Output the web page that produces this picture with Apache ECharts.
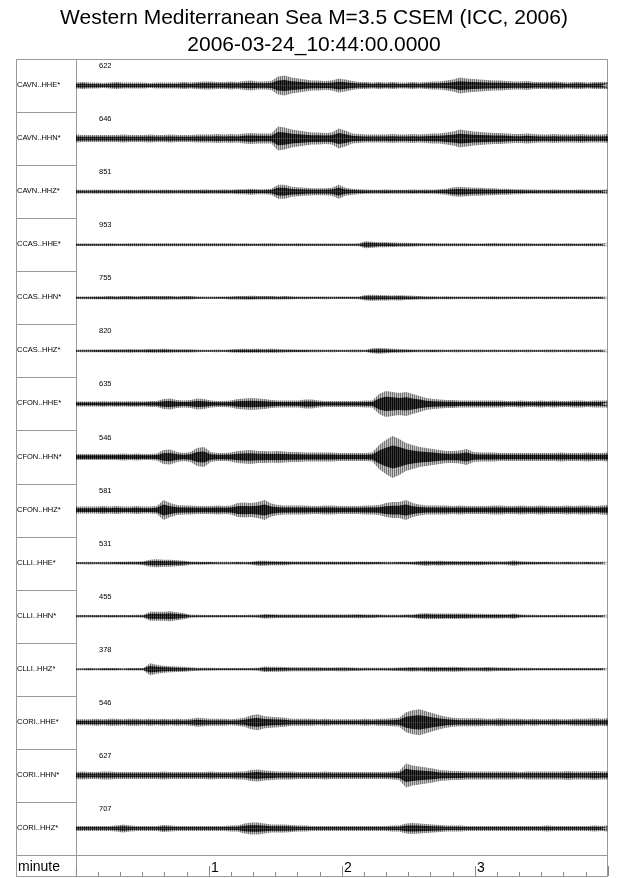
<!DOCTYPE html>
<html><head><meta charset="utf-8">
<script src="https://cdn.jsdelivr.net/npm/echarts@6/dist/echarts.min.js"></script>
<style>html,body{margin:0;padding:0;background:#fff}#c{width:640px;height:878px}</style>
</head><body><div id="c"></div>
<script>
// ---------- data ----------
const titleLine1 = 'Western Mediterranean Sea M=3.5 CSEM (ICC, 2006)';
const titleLine2 = '2006-03-24_10:44:00.0000';
const stations = ['CAVN..HHE*','CAVN..HHN*','CAVN..HHZ*','CCAS..HHE*','CCAS..HHN*','CCAS..HHZ*',
  'CFON..HHE*','CFON..HHN*','CFON..HHZ*','CLLI..HHE*','CLLI..HHN*','CLLI..HHZ*',
  'CORI..HHE*','CORI..HHN*','CORI..HHZ*'];
const gains = [622,646,851,953,755,820,635,546,581,531,455,378,546,627,707];
const axisName = 'minute';
const minuteTicks = [1,2,3];
// amplitude envelopes (half-height), 80 bins of 3 s over 4 minutes
const envCAVN_HHE = [3,3.5,3,3,2.5,3,3.5,3,3,3,3,2.5,3,3,3,3,3.5,3,
 3.5,4,4,3.5,3.5,4,3.5, 4.5,5,4,4,4.5, 9,10,8,7,6, 5,5,4.5,5,7,6,4.5,
 3.5,3.5,3,3.5,3,3.5,3,3,3.5,3,3.5,4,4, 5,6,8,7,6.5,6,5.5,5,5,4.5,
 4,4,4.5,3.5,3.5,3.5,4,3.5,3,3.5,3.5,3,3.5,3.5,3.5];
const envCAVN_HHN = [4,3.5,3.5,3.5,3.5,3.5,3.5,4,3.5,3.5,3.5,4,3.5,3.5,4,3.5,3.5,3.5,
 4,4,4,4.5,4,4.5,4, 5,5.5,5,5,5, 12,11,9,8,7, 6,6,5.5,6,10,8,5,
 4.5,4,4,4,4,4.5,4,4,4.5,4,4.5,5,5, 6,7,9,8,7,6.5,6,5.5,5.5,5,
 4.5,4.5,5,4.5,4,4,4.5,4,4,4,4.5,4,4,4,4.5];
const envCAVN_HHZ = [2,1.8,1.8,2,1.8,2,1.8,1.8,2,1.8,2,1.8,1.8,2,2,1.8,2,2,
 2,2.2,2,2,2.2,2,2.5, 2.5,3,2.5,2.5,3, 7,7,5,4.5,4, 3.5,3.5,3.5,4,7,4,3,
 2.5,2.2,2,2,2.2,2,2,2,2.2,2,2.2,2,2.5, 3,4.5,5,4.5,4,4,3.5,3.5,3,3,
 2.5,2.5,2.2,2.2,2,2,2.2,2,2,2,2.2,2,2,2,2.2];
const envCCAS_HHE = [1.3,1.3,1.2,1.3,1.3,1.4,1.3,1.3,1.4,1.5,1.4,1.3,1.4,1.5,1.5,1.4,1.5,1.5,1.4,1.5,1.5,1.4,
 1.5,1.4,1.3,1.4,1.2,1.3,1.4,1.5,1.3,1.2,1.3,1.4,1.3,1.3,1.2,1.3,1.2,1.3,1.3,1.2,1.5,
 3.5,3,2.5,2.5,2.2,2,2,
 1.8,1.6,1.5,1.6,1.5,1.5,1.4,1.5,1.4,1.3,1.3,1.5,1.6,1.5,1.4,1.5,1.4,1.4,1.3,1.3,1.4,1.3,1.3,1.4,1.3,1.3,1.4,1.5,1.4,1.6];
const envCCAS_HHN = [1.3,1.4,1.4,1.5,1.5, 1.7,1.6,1.8,1.7,1.6,1.8,1.8,1.7,1.9,1.7,1.6,1.8,1.7,
 1.3,1.2,1.2,1.3,1.3, 1.6,1.8,1.9,2,1.8,1.7,1.8,1.6,1.7,1.5, 1.3,1.4,1.3,1.3,1.4,1.2,1.3,1.3,1.3,1.4,
 2.8,3,2.8,2.6,2.4,2.6,2.2,2,1.8,
 1.6,1.5,1.4,1.5,1.4,1.3,1.3,1.4,1.3,1.4,1.5,1.4,1.4,1.3,1.3,1.4,1.3,1.3,1.4,1.3,1.4,1.3,1.3,1.4,1.4,1.3,1.3,1.4];
const envCCAS_HHZ = [1.2,1.3,1.3,1.4,1.4, 1.6,1.7,1.6,1.8,1.7,1.6,1.9,1.8,2,1.8,1.7,1.6,1.6,
 1.3,1.2,1.2,1.3,1.2, 1.7,1.9,2,1.9,2,1.8,2,1.8,1.6,1.5,1.4,1.4, 1.3,1.3,1.2,1.3,1.2,1.2,1.3,1.3,1.2,
 2.5,2.8,2.5,2,1.8,1.6,
 1.4,1.3,1.3,1.4,1.3,1.2,1.3,1.3,1.2,1.3,1.3,1.2,1.3,1.2,1.2,1.3,1.2,1.3,1.2,1.2,1.3,1.3,1.2,1.3,1.2,1.3,1.3,1.2,1.3,1.3];
const envCFON_HHE = [2.5,2.5,2.5,2.5,2.8,2.5,2.8,2.5,2.8,2.8,2.5,3,3, 5,5.5,4,3.5, 4,5.5,5,3.5, 3,3,3.5,
 5,5.5,6,5.5,5,4, 3.5,3.5,3.5,3.5, 4.5,4.5,3.5, 3,3,3,3,3,3,3.5,3.5,
 10,13,12,11,12,10,8,6,5,
 4.5,4,4,3.5,3.5,3.5,3.5,3.5,3.5,3.5,3,3,3.5,3,3,3.5,3,3.5,3,3,3.5,3.5,3,3.5,3.5,3.5];
const envCFON_HHN = [3,3,3,3,3,3,3,3.5,3,3.5,3,3,3.5, 7,7.5,5,4, 5,9,10,5, 4,4,4.5,
 6,6.5,7,6,6,5.5,6,5.5, 5,5,4.5,4.5,4.5,4.5,4.5,4,4,4,4,4,4.5,
 12,17,21,18,14,12,10,9,8,7, 6,6,6.5,8,
 5,4.5,4.5,4.5,4,4,4,4,4,4,4,4,4,4.5,4,4,4,4.5,4,4,4.5];
const envCFON_HHZ = [3.5,3.5,3.5,3.5,4,3.5,4,3.5,3.5,4,3.5,3.5,4, 10,7,5, 4.5,4.5,4,4,4,4.5,4,4.5,
 7,7.5,7,8,10,6.5,5, 4.5,4.5,4.5,4.5,4,4,4.5,4.5,4,4,4,4,4.5,4.5,5,
 7,8,8,10,7,5.5,
 4.5,4.5,4.5,4.5,4,4.5,4,4,4,4,4.5,4.5,4,4,4.5,4,4,4.5,4,4,4,4.5,4,4.5,4.5,4,4.5,5];
const envCLLI_HHE = [1.2,1.2,1.3,1.2,1.3,1.3,1.4,1.5,1.6,1.6,2, 3.5,4,3.5,3.5,3,2.5,
 1.6,1.5,1.5,1.4,1.3,1.3,1.3,1.4,1.3,1.5, 2.5,2.5,2.2,2,2,
 1.7,1.6,1.6,1.7,1.6,1.5,1.6,1.5,1.6,1.5,1.4,1.5,1.4,1.4,1.3,1.3,1.4,1.4,1.5,
 2.2,2.5,2.2,2.4,2.2,2.2,2,2.2,2,2,1.8,
 1.8,1.7,1.8,2.6,1.8,1.6,1.5,1.4,1.4,1.3,1.3,1.4,1.3,1.3,1.4,1.3,1.3,1.5];
const envCLLI_HHN = [1.2,1.2,1.2,1.3,1.2,1.3,1.3,1.2,1.3,1.4,1.5, 4.5,4.5,4.5,5,4,3,
 1.5,1.4,1.3,1.3,1.3,1.3,1.3,1.3,1.3,1.4,1.5,
 2.2,2,1.8,1.8,1.7,1.8,1.7,1.8,1.8,1.7,1.8,1.7,1.8,1.9,2,1.8,1.7,1.6,1.5,1.5,1.5,1.6,1.8,
 2.6,3,2.8,2.8,2.6,2.8,2.6,2.6,2.4,2.4,2.2,2.2,2.2,2,2.6,
 1.6,1.4,1.4,1.3,1.3,1.3,1.4,1.3,1.3,1.3,1.4,1.3,1.3,1.4];
const envCLLI_HHZ = [1.1,1.1,1.2,1.1,1.2,1.2,1.2,1.1,1.2,1.2,1.3, 6,4.5,3.5,3,2.8,2.5,2,
 1.6,1.4,1.4,1.3,1.3,1.3,1.3,1.3,1.2,1.4,
 2.8,2.5,2.4,2.2,2,2,2,1.9,1.9,1.8,1.8,1.9,2,1.8,1.6,1.5,1.4,1.4,1.4,
 1.6,1.8,2,2.2,2,2.2,2.4,2.2,2.2,2.4,2.2,2,2,2,2.2,2,1.8,1.8,1.6,1.5,
 1.4,1.3,1.2,1.3,1.2,1.2,1.3,1.2,1.2,1.3,1.2,1.2,1.3];
const envCORI_HHE = [3,3,3,3.5,3,3.5,3.5,3,3.5,3.5,3,3.5,3,3.5,3,3.5,3,3.5, 4.5,4,3.5, 3.5,3.5,3,3.5,4.5,
 7,8,6,5.5,5,4.5, 3.5,3.5,3.5,3.5,3,3.5,3,3,3,3,3,3.5,3,3.5,3.5,4,4.5,
 10,12,13,11,9,7,5.5,4.5,
 4,4,4,4,3.5,3.5,4,3.5,3.5,3.5,3,3.5,3,3,3.5,3,3,3.5,3.5,3.5,4,3.5,4];
const envCORI_HHN = [3.5,4,3.5,3.5,4,4,3.5,3.5,3.5,3.5,3.5,3.5,3.5,4,3.5,3.5,3.5,3.5, 3.5,3.5,4,3.5,3.5,3.5,4,4,
 5.5,6,5,4.5, 4,4,4,3.5,3.5,3.5,3.5,4,3.5,3.5,3.5,3.5,3.5,3.5,3.5,3.5,3.5,4,4.5,
 12,10,9,8,7,5.5,5,
 4.5,4.5,4,4,4,4,4,4,4,4,3.5,4,4,4,4,4,4,4.5,4,4,4,4.5,4,4];
const envCORI_HHZ = [2.5,2.5,2.5,2.5,2.5,2.5,3,4,3,2.5,2.5,2.5,2.5,3.5,3,2.5,2.5,2.5, 2.5,2.5,2.5,2.5,2.5,3,3,
 5,6,6,5,4,4,4,3.5, 3,3,2.5,2.5,2.5,2.5,2.5,2.5,2.5,2.5,2.5,2.5,2.5,2.5,3,3,
 5,5.5,5,4.5,4,3.5,
 3,3,3,2.5,2.5,2.5,2.5,2.5,2.5,2.5,2.5,2.5,2.5,2.5,2.5,3,2.5,2.5,2.5,2.5,2.5,2.5,3,2.5,3];

const traces = [envCAVN_HHE,envCAVN_HHN,envCAVN_HHZ,envCCAS_HHE,envCCAS_HHN,envCCAS_HHZ,
  envCFON_HHE,envCFON_HHN,envCFON_HHZ,envCLLI_HHE,envCLLI_HHN,envCLLI_HHZ,
  envCORI_HHE,envCORI_HHN,envCORI_HHZ];

// ---------- layout / style ----------
const L = 16, R = 607, D = 76, PR = 608, TOP = 59, AX = 855, BOT = 876;
const rowH = (AX - TOP) / stations.length;
const FONT = '"Liberation Sans", Arial, Helvetica, sans-serif';
const frame = '#999';
const CORE = 0.55; // share of the envelope drawn as the dense dark core

function makePattern(a0, a1) {
  const c = document.createElement('canvas'); c.width = 2; c.height = 4;
  const g = c.getContext('2d');
  g.fillStyle = 'rgba(0,0,0,' + a0 + ')'; g.fillRect(0, 0, 1, 4);
  g.fillStyle = 'rgba(0,0,0,' + a1 + ')'; g.fillRect(1, 0, 1, 4);
  return {image: c, repeat: 'repeat'};
}
const outerPat = makePattern(0.55, 0.22);
const innerPat = makePattern(0.95, 0.7);

const grids = [], xAxes = [], yAxes = [], series = [], graphics = [];
traces.forEach((env, i) => {
  const top = TOP + i * rowH;
  grids.push({left: D, top: top, width: PR - D, height: rowH});
  xAxes.push({gridIndex: i, type: 'category', boundaryGap: false, data: env.map((_, k) => k), show: false});
  yAxes.push({gridIndex: i, type: 'value', min: -rowH/2, max: rowH/2, show: false});
  const band = (name, data, pat) => ({type: 'line', name: name, xAxisIndex: i, yAxisIndex: i, symbol: 'none', silent: true,
    data: data, lineStyle: {width: 0}, areaStyle: {color: pat, opacity: 1}});
  series.push(band(stations[i] + ' max', env, outerPat));
  series.push(band(stations[i] + ' min', env.map(v => -v), outerPat));
  series.push(band(stations[i] + ' core+', env.map(v => v * CORE), innerPat));
  series.push(band(stations[i] + ' core-', env.map(v => -v * CORE), innerPat));
  graphics.push({type: 'text', left: L + 1, top: top + rowH/2 - 4.5, style: {text: stations[i], font: '7.5px ' + FONT, fill: '#000'}});
  graphics.push({type: 'text', left: 99, top: top + 3, style: {text: String(gains[i]), font: '7.5px ' + FONT, fill: '#000'}});
  if (i > 0) graphics.push({type: 'line', shape: {x1: L, y1: Math.round(top)+0.5, x2: D, y2: Math.round(top)+0.5}, style: {stroke: frame, lineWidth: 1}});
});
// time axis row
const ai = traces.length;
grids.push({left: D, top: AX, width: PR - D, height: BOT - AX});
xAxes.push({gridIndex: ai, type: 'value', min: 0, max: 240, interval: 60, position: 'bottom',
  axisLine: {show: false}, splitLine: {show: false},
  axisTick: {show: true, inside: true, length: 10, lineStyle: {color: '#888'}},
  minorTick: {show: true, splitNumber: 6, length: 4, lineStyle: {color: '#888'}},
  axisLabel: {inside: true, margin: 1, align: 'left', verticalAlign: 'bottom', padding: [0,0,0,2],
    fontSize: 14, fontFamily: FONT, color: '#000',
    formatter: v => (minuteTicks.indexOf(v/60) >= 0 ? String(v/60) : '')}});
yAxes.push({gridIndex: ai, type: 'value', min: 0, max: 1, show: false});
series.push({type: 'line', xAxisIndex: ai, yAxisIndex: ai, data: [], silent: true});

// frame
[[L,TOP,R,TOP],[L,TOP,L,BOT],[R,TOP,R,BOT],[L,BOT,R,BOT],[L,AX,R,AX],[D,TOP,D,BOT]].forEach(s => {
  graphics.push({type: 'line', shape: {x1: s[0]+0.5, y1: s[1]+0.5, x2: s[2]+0.5, y2: s[3]+0.5}, style: {stroke: frame, lineWidth: 1}});
});
graphics.push({type: 'text', left: L + 2, top: AX + 5, style: {text: axisName, font: '14px ' + FONT, fill: '#000'}});

const chart = echarts.init(document.getElementById('c'), null, {renderer: 'canvas'});
chart.setOption({
  animation: false,
  backgroundColor: '#fff',
  title: [
    {text: titleLine1, left: 309, top: 3, textAlign: 'center', textStyle: {fontSize: 21, fontWeight: 'normal', fontFamily: FONT, color: '#000'}},
    {text: titleLine2, left: 309, top: 30, textAlign: 'center', textStyle: {fontSize: 21, fontWeight: 'normal', fontFamily: FONT, color: '#000'}}
  ],
  grid: grids, xAxis: xAxes, yAxis: yAxes, series: series, graphic: graphics
});
</script></body></html>
